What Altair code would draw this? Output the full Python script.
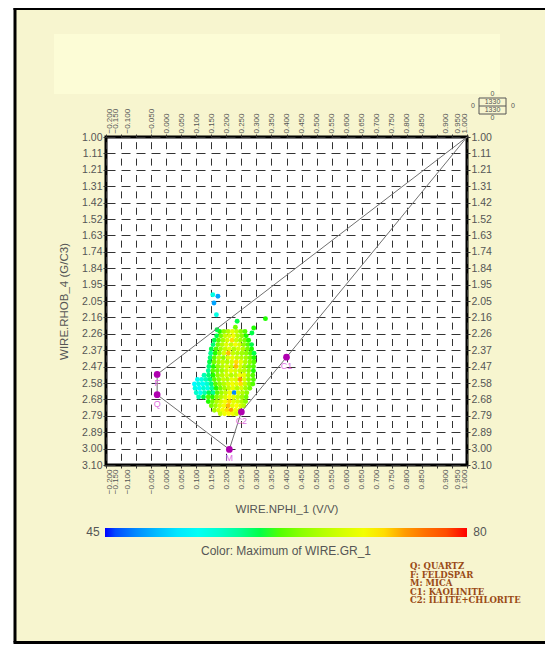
import json
import altair as alt
import pandas as pd

FONT = "Liberation Sans"
GRAY = "#555555"
CREAM = "#f7f5cf"
PALE = "#fcfcd6"

# ---------------- axes ----------------
X_DOMAIN = [-0.2, 1.0]
Y_DOMAIN = [1.0, 3.1]
X_TICKS = [-0.2, -0.15, -0.1, -0.05, 0.0, 0.05, 0.1, 0.15, 0.2, 0.25, 0.3, 0.35, 0.4,
           0.45, 0.5, 0.55, 0.6, 0.65, 0.7, 0.75, 0.8, 0.85, 0.9, 0.95, 1.0]
Y_TICKS = [1.0, 1.105, 1.21, 1.315, 1.42, 1.525, 1.63, 1.735, 1.84, 1.945, 2.05,
           2.155, 2.26, 2.365, 2.47, 2.575, 2.68, 2.785, 2.89, 2.995, 3.1]
Y_LABELS = ["1.00", "1.11", "1.21", "1.31", "1.42", "1.52", "1.63", "1.74", "1.84",
            "1.95", "2.05", "2.16", "2.26", "2.37", "2.47", "2.58", "2.68", "2.79",
            "2.89", "3.00", "3.10"]

# ---------------- colour scale ----------------
GR_STOPS = [45, 53.2, 60.8, 70.9, 74.8, 80]
GR_COLORS = ["#0000ff", "#00ffff", "#00ff00", "#ffff00", "#ff8000", "#ff0000"]
GR_ENDS = [45, 80]

# ---------------- mineral end points ----------------
POLY_CODE = ["", "F", "Q", "M", "C2", "C1", ""]
POLY_NPHI = [1.0, -0.03, -0.03, 0.21, 0.25, 0.40, 1.0]
POLY_RHOB = [1.0, 2.52, 2.65, 3.00, 2.76, 2.41, 1.0]
MIN_CODE = ["F", "Q", "M", "C2", "C1"]
MIN_NPHI = [-0.03, -0.03, 0.21, 0.25, 0.40]
MIN_RHOB = [2.52, 2.65, 3.00, 2.76, 2.41]
LEGEND_LINES = ["Q: QUARTZ", "F: FELDSPAR", "M: MICA", "C1: KAOLINITE", "C2: ILLITE+CHLORITE"]
N_POINTS = "1330"

# ---------------- log data cloud ----------------
ROW_RHOB = [2.245, 2.273, 2.301, 2.329, 2.357, 2.385, 2.413, 2.441, 2.469, 2.497,
            2.525, 2.553, 2.581, 2.609, 2.637, 2.665, 2.693, 2.721, 2.749, 2.772]
ROW_NPHI = [
    [0.178, 0.192, 0.206, 0.220, 0.234, 0.248, 0.262],
    [0.168, 0.182, 0.196, 0.210, 0.224, 0.238, 0.252, 0.266],
    [0.160, 0.174, 0.189, 0.203, 0.219, 0.233, 0.247, 0.262, 0.274],
    [0.156, 0.172, 0.186, 0.200, 0.216, 0.230, 0.244, 0.258, 0.272, 0.284],
    [0.150, 0.166, 0.181, 0.196, 0.210, 0.225, 0.240, 0.255, 0.270, 0.284],
    [0.148, 0.163, 0.177, 0.192, 0.207, 0.222, 0.237, 0.252, 0.266, 0.280, 0.292],
    [0.146, 0.160, 0.175, 0.190, 0.205, 0.220, 0.235, 0.250, 0.265, 0.279, 0.292],
    [0.144, 0.159, 0.174, 0.188, 0.203, 0.218, 0.233, 0.248, 0.263, 0.278, 0.292],
    [0.142, 0.157, 0.172, 0.187, 0.202, 0.217, 0.232, 0.247, 0.261, 0.276, 0.290],
    [0.140, 0.155, 0.170, 0.185, 0.200, 0.215, 0.230, 0.245, 0.259, 0.274, 0.290],
    [0.126, 0.141, 0.156, 0.171, 0.186, 0.201, 0.216, 0.231, 0.245, 0.259, 0.273, 0.288],
    [0.104, 0.118, 0.132, 0.146, 0.160, 0.175, 0.190, 0.204, 0.218, 0.232, 0.246, 0.260,
     0.274, 0.290],
    [0.094, 0.108, 0.122, 0.136, 0.150, 0.164, 0.178, 0.192, 0.206, 0.220, 0.234, 0.248,
     0.262, 0.276, 0.288],
    [0.096, 0.110, 0.124, 0.138, 0.152, 0.166, 0.180, 0.194, 0.208, 0.222, 0.236, 0.250,
     0.264, 0.278],
    [0.100, 0.114, 0.128, 0.142, 0.156, 0.170, 0.184, 0.198, 0.212, 0.226, 0.240, 0.254,
     0.268],
    [0.108, 0.124, 0.140, 0.154, 0.168, 0.182, 0.196, 0.210, 0.224, 0.238, 0.252, 0.266],
    [0.140, 0.154, 0.168, 0.182, 0.196, 0.210, 0.224, 0.238, 0.252, 0.264],
    [0.150, 0.164, 0.178, 0.192, 0.206, 0.220, 0.234, 0.248, 0.258],
    [0.160, 0.174, 0.188, 0.202, 0.216, 0.230, 0.244],
    [0.180, 0.194, 0.208, 0.222, 0.234],
]
ROW_GR = [
    [61, 64, 66, 69, 67, 64, 62],
    [60, 63, 67, 68, 70, 66, 64, 61],
    [60, 62, 65, 68, 72, 67, 65, 63, 61],
    [59, 63, 66, 69, 67, 70, 68, 64, 62, 60],
    [60, 62, 65, 67, 69, 66, 68, 66, 63, 61],
    [58, 61, 64, 68, 73, 67, 66, 65, 64, 62, 60],
    [59, 62, 66, 64, 68, 69, 67, 66, 65, 63, 61],
    [60, 63, 65, 67, 66, 68, 72, 69, 66, 64, 62],
    [59, 61, 64, 66, 68, 67, 73, 68, 65, 63, 62],
    [58, 62, 63, 65, 67, 69, 68, 67, 66, 64, 61],
    [57, 59, 61, 64, 66, 68, 66, 67, 70, 69, 65, 62],
    [54, 55, 57, 59, 62, 64, 67, 66, 69, 68, 74, 68, 64, 62],
    [53, 55, 54, 56, 59, 62, 64, 66, 68, 70, 69, 72, 67, 64, 62],
    [55, 53, 56, 55, 58, 61, 63, 65, 67, 69, 66, 68, 65, 63],
    [56, 54, 57, 60, 58, 62, 65, 67, 70, 48, 68, 66, 64],
    [57, 60, 62, 61, 64, 66, 68, 71, 69, 67, 65, 63],
    [61, 63, 66, 68, 70, 72, 69, 68, 66, 64],
    [63, 65, 68, 70, 73, 69, 71, 68, 66],
    [65, 68, 70, 72, 74, 70, 68],
    [67, 70, 71, 70, 68],
]
OUT_NPHI = [0.155, 0.172, 0.159, 0.167, 0.236, 0.330, 0.169, 0.291, 0.285, 0.230]
OUT_RHOB = [2.010, 2.020, 2.063, 2.138, 2.180, 2.163, 2.234, 2.223, 2.255, 2.218]
OUT_GR = [55, 49, 49, 55, 60, 61, 60, 61, 60, 63]

# ---------------- tables ----------------
recs = []
for rh, xv, gs in zip(ROW_RHOB, ROW_NPHI, ROW_GR):
    for nx, g in zip(xv, gs):
        recs.append({"nphi": nx, "rhob": rh, "gr": g})
for nx, rh, g in zip(OUT_NPHI, OUT_RHOB, OUT_GR):
    recs.append({"nphi": nx, "rhob": rh, "gr": g})
cloud = pd.DataFrame(recs)

poly = pd.DataFrame({"code": POLY_CODE, "nphi": POLY_NPHI, "rhob": POLY_RHOB,
                     "order": list(range(len(POLY_CODE)))})
minerals = pd.DataFrame({"code": MIN_CODE, "nphi": MIN_NPHI, "rhob": MIN_RHOB})
one = pd.DataFrame({"k": [0]})

# ---------------- layout (pixels, relative to plot area) ----------------
W, H = 361, 328
PAD = {"left": 98, "top": 129, "right": 78, "bottom": 179}
BOTTOM = 636 - PAD["top"]
RIGHT = 537 - PAD["left"]

xs = alt.Scale(domain=X_DOMAIN, nice=False, zero=False)
ys = alt.Scale(domain=Y_DOMAIN, nice=False, zero=False, reverse=True)
cs = alt.Scale(domain=GR_STOPS, range=GR_COLORS)

y_expr = f"{json.dumps(Y_LABELS)}[indexof({json.dumps(Y_TICKS)}, datum.value)]"

# crowded end labels of the porosity axis are nudged as in the original
EDGE_SHIFT = [(-0.2, 3), (-0.15, -6), (-0.1, -9), (0.9, 9), (0.95, 6), (1.0, -3)]
x_label_offset = {
    "condition": [{"test": f"abs(datum.value - ({v})) < 1e-6", "value": d}
                  for v, d in EDGE_SHIFT],
    "value": 0,
}

common_x = dict(values=X_TICKS, format=".3f", labelAngle=270, labelBaseline="middle",
                labelFlush=False, labelOverlap=False, labelFont=FONT, labelFontSize=8,
                labelColor=GRAY, labelPadding=1, tickSize=3, tickColor="#333333",
                domain=False, labelOffset=x_label_offset)
common_y = dict(values=Y_TICKS, labelExpr=y_expr, labelOverlap=False, labelFont=FONT,
                labelFontSize=10.5, labelColor=GRAY, labelPadding=1, tickSize=3,
                tickColor="#333333", domain=False)

bottom_axis = alt.Axis(orient="bottom", labelAlign="right", grid=True, gridColor="#333333",
                       gridDash=[7, 9.4], gridDashOffset=11.7, gridWidth=1,
                       title="WIRE.NPHI_1 (V/V)", titleFont=FONT, titleFontSize=11.5,
                       titleFontWeight="normal", titleColor=GRAY, titlePadding=10, **common_x)
top_axis = alt.Axis(orient="top", labelAlign="left", grid=False, title="", **common_x)
left_axis = alt.Axis(orient="left", grid=True, gridColor="#333333", gridDash=[9, 6],
                     gridWidth=1, title="WIRE.RHOB_4 (G/C3)", titleFont=FONT,
                     titleFontSize=11.5, titleFontWeight="normal", titleColor=GRAY,
                     titlePadding=12, **common_y)
right_axis = alt.Axis(orient="right", grid=False, title="", **common_y)

legend = alt.Legend(orient="none", legendX=-1, legendY=391, direction="horizontal",
                    gradientLength=362, gradientThickness=9, gradientStrokeWidth=0,
                    labelExpr="''", labelFontSize=1, labelOpacity=0,
                    title="Color: Maximum of WIRE.GR_1", titleOrient="bottom",
                    titleAnchor="middle", titleFont=FONT, titleFontSize=12,
                    titleFontWeight="normal", titleColor=GRAY, titlePadding=6, padding=0)


def label_at(text, x, y, size=7, **kw):
    return alt.Chart(one).mark_text(font=FONT, fontSize=size, color=GRAY, **kw).encode(
        x=alt.value(x), y=alt.value(y), text=alt.value(text))


# decorations
frame_white = alt.Chart(one).mark_rect(color="white").encode(
    x=alt.value(-98), x2=alt.value(-91), y=alt.value(-129), y2=alt.value(BOTTOM))
frame_left = alt.Chart(one).mark_rule(color="black", strokeWidth=3).encode(
    x=alt.value(-91), y=alt.value(-129), y2=alt.value(BOTTOM - 1.5))
frame_top = alt.Chart(one).mark_rule(color="black", strokeWidth=3).encode(
    x=alt.value(-92.5), x2=alt.value(RIGHT), y=alt.value(-128.5))
frame_bottom = alt.Chart(one).mark_rule(color="black", strokeWidth=3).encode(
    x=alt.value(-92.5), x2=alt.value(RIGHT), y=alt.value(BOTTOM - 1.5))
pale = alt.Chart(one).mark_rect(color=PALE).encode(
    x=alt.value(-52), x2=alt.value(394), y=alt.value(-103), y2=alt.value(-43))

cloud_layer = alt.Chart(cloud).mark_circle(size=24, opacity=1).encode(
    x=alt.X("nphi:Q", scale=xs, axis=bottom_axis),
    y=alt.Y("rhob:Q", scale=ys, axis=left_axis),
    color=alt.Color("gr:Q", scale=cs, legend=legend),
)
ghost = alt.Chart(cloud).mark_point(opacity=0).encode(
    x=alt.X("nphi:Q", scale=xs, axis=top_axis),
    y=alt.Y("rhob:Q", scale=ys, axis=right_axis),
)
lines = alt.Chart(poly).mark_line(color="#707070", strokeWidth=1).encode(
    x=alt.X("nphi:Q", scale=xs, axis=None),
    y=alt.Y("rhob:Q", scale=ys, axis=None),
    order="order:Q",
)
pts = alt.Chart(minerals).mark_circle(size=45, color="#b000b0", opacity=1).encode(
    x=alt.X("nphi:Q", scale=xs, axis=None),
    y=alt.Y("rhob:Q", scale=ys, axis=None),
)
pt_labels = alt.Chart(minerals).mark_text(color="#e070e0", font=FONT, fontSize=9, dy=9).encode(
    x=alt.X("nphi:Q", scale=xs, axis=None),
    y=alt.Y("rhob:Q", scale=ys, axis=None),
    text="code:N",
)
lo_text = label_at(str(GR_ENDS[0]), -13, 395, size=12)
hi_text = label_at(str(GR_ENDS[1]), 374, 395, size=12)
mineral_legend = alt.Chart(one).mark_text(
    font="DejaVu Serif", fontWeight="bold", fontSize=8.5, color="#9a4b16",
    align="left", baseline="middle", lineBreak="\n", lineHeight=8.5,
).encode(x=alt.value(304), y=alt.value(429), text=alt.value("\n".join(LEGEND_LINES)))

stats_box = alt.Chart(one).mark_rect(fill=CREAM, stroke="#555555", strokeWidth=1).encode(
    x=alt.value(373), x2=alt.value(400), y=alt.value(-39), y2=alt.value(-23))
stats_mid = alt.Chart(one).mark_rule(color="#555555", strokeWidth=1).encode(
    x=alt.value(373), x2=alt.value(400), y=alt.value(-31))
stats = [
    label_at(N_POINTS, 386.5, -35), label_at(N_POINTS, 386.5, -27),
    label_at("0", 386.5, -43), label_at("0", 386.5, -19),
    label_at("0", 367, -31), label_at("0", 407, -31),
]

chart = alt.layer(
    frame_white, pale, frame_left, frame_top, frame_bottom,
    cloud_layer, ghost, lines, pts, pt_labels,
    lo_text, hi_text, mineral_legend, stats_box, stats_mid, *stats,
).resolve_axis(x="independent", y="independent").properties(
    width=W, height=H, padding=PAD, autosize=alt.AutoSizeParams(type="none"),
    background=CREAM,
).configure_view(fill="white", stroke="black", strokeWidth=3)

chart.save("out.html", embed_options={"renderer": "svg", "actions": False})
